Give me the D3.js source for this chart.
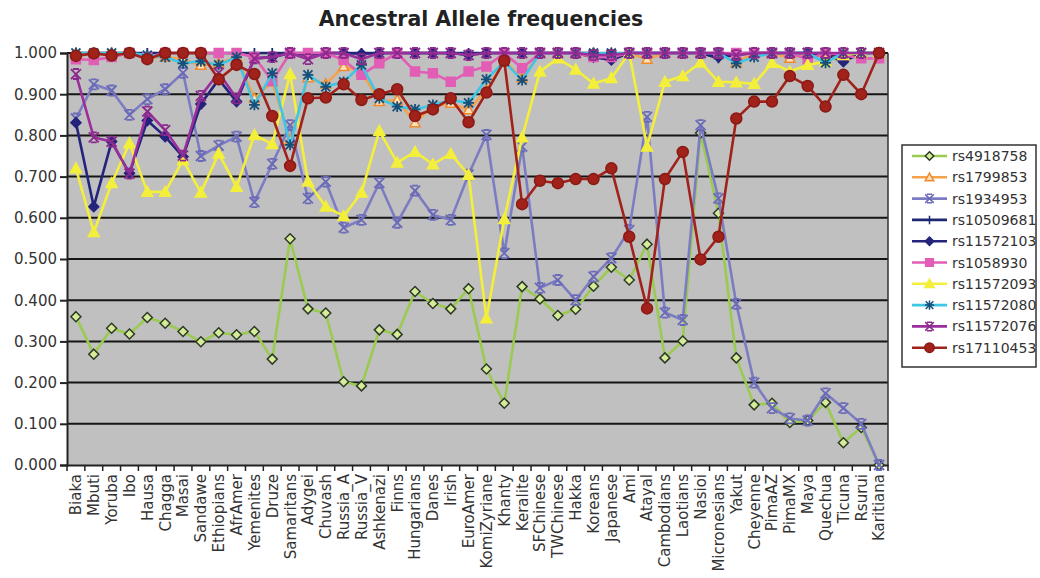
<!DOCTYPE html>
<html><head><meta charset="utf-8">
<script src="https://cdn.jsdelivr.net/npm/d3@7/dist/d3.min.js"></script>
<style>body{margin:0;background:#fff}svg{display:block}text{font-family:"DejaVu Sans",Verdana,sans-serif}</style>
</head><body><svg id="c" width="1040" height="578"></svg>
<script>
const categories = ["Biaka","Mbuti","Yoruba","Ibo","Hausa","Chagga","Masai","Sandawe","Ethiopians","AfrAmer","Yemenites","Druze","Samaritans","Adygei","Chuvash","Russia_A","Russia_V","Ashkenazi","Finns","Hungarians","Danes","Irish","EuroAmer","KomiZyriane","Khanty","Keralite","SFChinese","TWChinese","Hakka","Koreans","Japanese","Ami","Atayal","Cambodians","Laotians","Nasioi","Micronesians","Yakut","Cheyenne","PimaAZ","PimaMX","Maya","Quechua","Ticuna","Rsurui","Karitiana"];
const yTicks = [0,0.1,0.2,0.3,0.4,0.5,0.6,0.7,0.8,0.9,1.0];
const seriesNames = ["rs4918758","rs1799853","rs1934953","rs10509681","rs11572103","rs1058930","rs11572093","rs11572080","rs11572076","rs17110453"];
const rs4918758 = [0.360,0.269,0.332,0.318,0.358,0.344,0.324,0.299,0.321,0.316,0.324,0.257,0.549,0.379,0.369,0.202,0.192,0.328,0.317,0.421,0.392,0.379,0.428,0.233,0.150,0.433,0.403,0.363,0.378,0.434,0.480,0.449,0.536,0.260,0.301,0.806,0.611,0.260,0.146,0.150,0.103,0.108,0.152,0.054,0.091,0.000];
const rs1799853 = [1.000,1.000,1.000,1.000,0.990,0.990,0.985,0.970,0.975,0.990,0.890,0.930,0.789,0.940,0.925,0.967,0.955,0.882,0.886,0.831,0.870,0.878,0.862,0.910,0.980,0.940,1.000,1.000,1.000,1.000,1.000,1.000,0.985,1.000,1.000,1.000,1.000,0.977,1.000,1.000,0.987,1.000,0.990,1.000,1.000,1.000];
const rs1934953 = [0.841,0.924,0.909,0.850,0.888,0.912,0.952,0.750,0.775,0.797,0.638,0.731,0.825,0.647,0.688,0.576,0.595,0.685,0.588,0.666,0.607,0.595,0.705,0.801,0.514,0.773,0.430,0.449,0.400,0.457,0.502,0.570,0.845,0.370,0.352,0.825,0.647,0.391,0.200,0.138,0.113,0.108,0.174,0.138,0.100,0.000];
const rs10509681 = [1.000,1.000,1.000,1.000,1.000,1.000,1.000,1.000,1.000,1.000,1.000,1.000,1.000,1.000,1.000,1.000,1.000,1.000,1.000,1.000,1.000,1.000,1.000,1.000,1.000,1.000,1.000,1.000,1.000,1.000,0.995,1.000,1.000,1.000,1.000,1.000,0.987,1.000,1.000,1.000,1.000,1.000,1.000,0.990,1.000,1.000];
const rs11572103 = [0.831,0.627,0.785,0.708,0.836,0.797,0.748,0.876,0.936,0.882,0.987,0.990,1.000,0.995,1.000,1.000,0.998,1.000,1.000,1.000,1.000,1.000,0.995,1.000,1.000,1.000,1.000,1.000,1.000,0.990,0.983,1.000,1.000,1.000,1.000,1.000,0.990,0.995,1.000,1.000,1.000,1.000,0.995,0.979,1.000,1.000];
const rs1058930 = [0.985,0.983,0.990,1.000,0.990,1.000,1.000,1.000,1.000,1.000,0.990,0.932,1.000,1.000,1.000,0.983,0.947,0.975,1.000,0.955,0.951,0.930,0.955,0.967,1.000,0.963,1.000,1.000,1.000,0.990,0.990,1.000,1.000,1.000,1.000,1.000,1.000,1.000,1.000,1.000,1.000,0.985,1.000,0.995,0.987,0.987];
const rs11572093 = [0.720,0.565,0.684,0.781,0.663,0.663,0.740,0.661,0.756,0.675,0.801,0.779,0.949,0.688,0.627,0.604,0.661,0.811,0.734,0.760,0.730,0.755,0.704,0.356,0.597,0.795,0.955,0.987,0.960,0.926,0.939,1.000,0.773,0.930,0.944,0.977,0.930,0.929,0.925,0.976,0.955,0.971,0.979,0.995,1.000,1.000];
const rs11572080 = [1.000,1.000,1.000,1.000,0.995,0.990,0.975,0.980,0.971,0.990,0.874,0.951,0.777,0.947,0.918,0.930,0.971,0.890,0.870,0.863,0.874,0.886,0.879,0.936,0.979,0.934,1.000,1.000,1.000,1.000,1.000,1.000,1.000,1.000,1.000,1.000,1.000,0.975,0.990,1.000,1.000,1.000,0.976,1.000,1.000,1.000];
const rs11572076 = [0.949,0.795,0.785,0.707,0.858,0.813,0.751,0.896,0.952,0.890,0.987,0.990,1.000,0.985,1.000,1.000,0.985,1.000,1.000,1.000,1.000,1.000,0.995,1.000,1.000,1.000,1.000,1.000,1.000,0.995,0.995,1.000,1.000,1.000,1.000,1.000,1.000,0.995,1.000,1.000,1.000,1.000,1.000,1.000,1.000,1.000];
const rs17110453 = [0.993,0.999,0.994,1.000,0.985,1.000,1.000,1.000,0.936,0.971,0.949,0.847,0.726,0.890,0.892,0.924,0.886,0.900,0.912,0.847,0.863,0.890,0.832,0.904,0.981,0.633,0.690,0.684,0.694,0.694,0.720,0.554,0.380,0.694,0.760,0.499,0.554,0.841,0.882,0.882,0.944,0.920,0.870,0.947,0.900,1.000];

const seriesValues = [rs4918758,rs1799853,rs1934953,rs10509681,rs11572103,rs1058930,rs11572093,rs11572080,rs11572076,rs17110453];
const styles = [
 {color:"#9acb50", marker:"diamond", mfill:"#d7ec9a", mstroke:"#2c3a25", ms:5},
 {color:"#f4a24c", marker:"triangle", mfill:"#fbe0bc", mstroke:"#f08a2c", ms:5},
 {color:"#7c7cc2", marker:"star", mfill:"none", mstroke:"#6a6ab8", ms:5},
 {color:"#1e2870", marker:"plus", mfill:"none", mstroke:"#1e2870", ms:5},
 {color:"#24247c", marker:"diamond", mfill:"#24247c", mstroke:"#24247c", ms:5},
 {color:"#e25db5", marker:"square", mfill:"#e25db5", mstroke:"#e25db5", ms:4.5},
 {color:"#f3ef3a", marker:"triangle", mfill:"#f3ef3a", mstroke:"#f3ef3a", ms:5.5},
 {color:"#3fc6e6", marker:"asterisk", mfill:"none", mstroke:"#16507a", ms:4.5},
 {color:"#9a2f9c", marker:"star", mfill:"none", mstroke:"#8a2a8c", ms:5},
 {color:"#a1211b", marker:"circle", mfill:"#a1211b", mstroke:"#8a1a14", ms:5.5}
];

function markerPath(t, s){
  switch(t){
    case "diamond": return `M0,${-s}L${s},0L0,${s}L${-s},0Z`;
    case "triangle": return `M0,${-s}L${s},${s*0.8}L${-s},${s*0.8}Z`;
    case "square": return `M${-s},${-s}H${s}V${s}H${-s}Z`;
    case "circle": return `M${s},0A${s},${s} 0 1,1 ${-s},0A${s},${s} 0 1,1 ${s},0Z`;
    case "plus": return `M${-s},0H${s}M0,${-s}V${s}`;
    case "star": return `M${-s},${-s}L${s},${s}M${s},${-s}L${-s},${s}M${-s*0.6},${-s}H${s*0.6}M${-s*0.6},${s}H${s*0.6}`;
    case "asterisk": return `M${-s},${-s}L${s},${s}M${s},${-s}L${-s},${s}M0,${-s*1.2}V${s*1.2}M${-s*1.2},0H${s*1.2}`;
  }
}

const svg = d3.select("#c");
const L=67, R=888, T=53, B=465;
const x = d3.scaleBand().domain(categories).range([L,R]);
const y = d3.scaleLinear().domain([0,1]).range([B,T]);

// title
svg.append("text").attr("x",481).attr("y",26).attr("text-anchor","middle")
  .attr("font-size",20.5).attr("font-weight","bold").attr("fill","#222").text("Ancestral Allele frequencies");

// plot background
svg.append("rect").attr("x",L).attr("y",T).attr("width",R-L).attr("height",B-T).attr("fill","#c0c0c0");

// gridlines
svg.append("g").selectAll("line").data(yTicks.filter(v=>v>0)).join("line")
  .attr("x1",L).attr("x2",R).attr("y1",d=>y(d)).attr("y2",d=>y(d))
  .attr("stroke","#151515").attr("stroke-width",2);

// plot border right
svg.append("line").attr("x1",R).attr("x2",R).attr("y1",T).attr("y2",B).attr("stroke","#333").attr("stroke-width",1.5);

// y axis
const yAxis = svg.append("g").attr("transform",`translate(${L},0)`)
  .call(d3.axisLeft(y).tickValues(yTicks).tickFormat(d3.format(".3f")).tickSize(7).tickPadding(3));
yAxis.select(".domain").attr("stroke","#222").attr("stroke-width",2);
yAxis.selectAll(".tick line").attr("stroke","#222").attr("stroke-width",2);
yAxis.selectAll(".tick text").attr("font-size",15).attr("fill","#333").attr("font-family","DejaVu Sans, sans-serif");

// x axis
const xAxis = svg.append("g").attr("transform",`translate(0,${B})`)
  .call(d3.axisBottom(x).tickSize(0).tickPadding(0));
xAxis.select(".domain").attr("stroke","#222").attr("stroke-width",2);
xAxis.selectAll(".tick text").attr("font-size",15).attr("fill","#333").attr("font-family","DejaVu Sans, sans-serif")
  .attr("text-anchor","end").attr("transform","rotate(-90)").attr("x",-9).attr("y",0).attr("dy","0.36em");
svg.append("g").selectAll("line").data(categories.concat([null])).join("line")
  .attr("x1",(d,i)=> d===null? R : x(d)).attr("x2",(d,i)=> d===null? R : x(d))
  .attr("y1",B).attr("y2",B+6).attr("stroke","#222").attr("stroke-width",1.5);

// series
const line = d3.line().x((d,i)=>x(categories[i])+x.bandwidth()/2).y(d=>y(d));
const plot = svg.append("g");
seriesValues.forEach((vals,si)=>{
  const st = styles[si];
  const g = plot.append("g");
  g.append("path").datum(vals).attr("d",line).attr("fill","none").attr("stroke",st.color).attr("stroke-width",2.6).attr("stroke-linejoin","round");
  g.selectAll("path.m").data(vals).join("path").attr("class","m")
    .attr("transform",(d,i)=>`translate(${x(categories[i])+x.bandwidth()/2},${y(d)})`)
    .attr("d",markerPath(st.marker, st.ms))
    .attr("fill",st.mfill).attr("stroke",st.mstroke).attr("stroke-width", st.mfill==="none"?1.8:1.5);
});

// legend
const lg = svg.append("g");
lg.append("rect").attr("x",902).attr("y",145).attr("width",134).attr("height",222).attr("fill","#fff").attr("stroke","#333").attr("stroke-width",1.5);
seriesNames.forEach((nm,i)=>{
  const st = styles[i];
  const cy = 156 + i*21.3;
  lg.append("line").attr("x1",912).attr("x2",947).attr("y1",cy).attr("y2",cy).attr("stroke",st.color).attr("stroke-width",2.6);
  lg.append("path").attr("transform",`translate(929.5,${cy})`).attr("d",markerPath(st.marker, st.ms*0.85))
    .attr("fill",st.mfill).attr("stroke",st.mstroke).attr("stroke-width",1.5);
  lg.append("text").attr("x",952).attr("y",cy).attr("dy","0.36em").attr("font-size",14).attr("fill","#333").text(nm);
});
</script></body></html>
